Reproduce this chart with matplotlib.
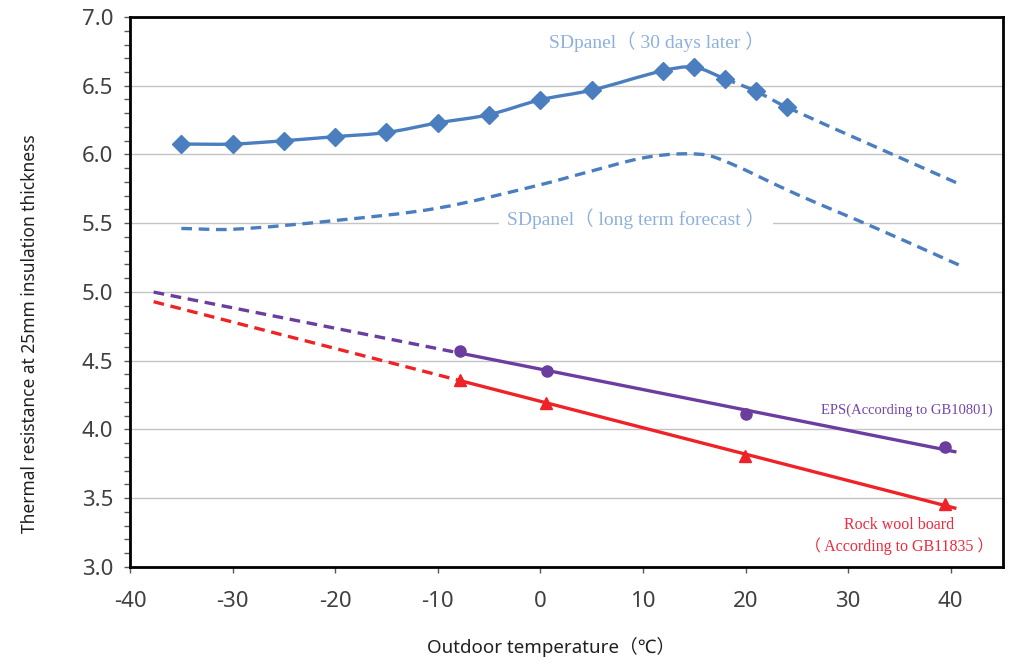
import numpy as np
import matplotlib
matplotlib.use("Agg")
import matplotlib.pyplot as plt
from matplotlib.path import Path
from matplotlib.patches import PathPatch
from matplotlib.ticker import MultipleLocator

# =========================================================
# DATA
# =========================================================
# SDpanel, measured 30 days later (diamonds)
sd30_x = [-35, -30, -25, -20, -15, -10, -5, 0, 5, 12, 15, 18, 21, 24]
sd30_y = [6.076, 6.076, 6.10, 6.13, 6.16, 6.23, 6.29, 6.398, 6.468, 6.61, 6.635, 6.55, 6.46, 6.345]
sd30_ext_x = [41]          # dashed extension end
sd30_ext_y = [5.78]
sd30_solid_until = 18      # solid up to here, dashed afterwards

# SDpanel, long term forecast (dashed, no markers)
sdlong_x = [-35, -30, -20, -10, 0, 5, 10, 14, 17, 25, 33, 41]
sdlong_y = [5.462, 5.456, 5.52, 5.61, 5.78, 5.88, 5.975, 6.005, 5.98, 5.71, 5.455, 5.19]

# EPS (According to GB10801)
eps_x = [-7.8, 0.6, 20.0, 39.4]
eps_y = [4.57, 4.425, 4.115, 3.87]

# Rock wool board (According to GB11835)
rock_x = [-7.8, 0.55, 19.96, 39.4]
rock_y = [4.36, 4.195, 3.807, 3.456]

# linear trend extent for EPS / rock wool
trend_from = -37.7
trend_to = 40.4

x_ticks = [-40, -30, -20, -10, 0, 10, 20, 30, 40]
y_ticks = [3.0, 3.5, 4.0, 4.5, 5.0, 5.5, 6.0, 6.5, 7.0]

# =========================================================
# COLOURS / FONTS
# =========================================================
BLUE = "#4a7ebe"
BLUE_TXT = "#8fb0de"
PURPLE = "#6a3d9e"
PURPLE_TXT = "#7446a8"
RED = "#ee2227"
RED_TXT = "#f0293d"
GREY_TXT = "#404040"
SERIF = ["Liberation Serif", "Noto Sans CJK SC"]
SANS = ["Noto Sans", "Noto Sans CJK SC"]


def smooth_path(xs, ys, i0, i1):
    # cubic Hermite (as Bezier) through the points, tangents from neighbours
    xs = np.asarray(xs, float)
    ys = np.asarray(ys, float)
    n = len(xs)
    m = np.empty(n)
    for i in range(n):
        a, b = max(i - 1, 0), min(i + 1, n - 1)
        m[i] = (ys[b] - ys[a]) / (xs[b] - xs[a])
    verts = [(xs[i0], ys[i0])]
    codes = [Path.MOVETO]
    for i in range(i0, i1):
        h = xs[i + 1] - xs[i]
        verts += [(xs[i] + h / 3, ys[i] + m[i] * h / 3),
                  (xs[i + 1] - h / 3, ys[i + 1] - m[i + 1] * h / 3),
                  (xs[i + 1], ys[i + 1])]
        codes += [Path.CURVE4] * 3
    return Path(verts, codes)


# =========================================================
# FIGURE
# =========================================================
fig = plt.figure(figsize=(10.24, 6.67), dpi=100)
ax = fig.add_axes([0.127, 0.15, 0.8525, 0.8245])

ax.set_xlim(-40, 45.1)
ax.set_ylim(3.0, 7.0)
ax.set_xticks(x_ticks)
ax.set_yticks(y_ticks)
ax.set_xticklabels([str(v) for v in x_ticks])
ax.set_yticklabels([f"{v:.1f}" for v in y_ticks])
ax.yaxis.set_minor_locator(MultipleLocator(0.1))
ax.grid(axis="y", which="major", color="#c4c4c4", linewidth=1.0, zorder=0)
ax.set_axisbelow(True)

for s in ax.spines.values():
    s.set_linewidth(2.0)
    s.set_color("black")

ax.tick_params(axis="both", which="major", direction="out", length=4, width=1,
               color="#595959", labelcolor=GREY_TXT, labelsize=16)
ax.tick_params(axis="y", which="minor", direction="out", length=4, width=1, color="#595959")
ax.tick_params(axis="y", which="major", pad=8)
ax.tick_params(axis="x", which="major", pad=13)
for lab in ax.get_xticklabels() + ax.get_yticklabels():
    lab.set_family(SANS)

ax.set_xlabel("Outdoor temperature（℃）", family=SANS, fontsize=13.5, color="#202020")
ax.set_ylabel("Thermal resistance at 25mm insulation thickness", family=SANS, fontsize=12.5,
              color="#202020")
ax.xaxis.set_label_coords(0.482, -0.128)
ax.yaxis.set_label_coords(-0.104, 0.425)

# ---------------- SDpanel 30 days ----------------
all_x = sd30_x + sd30_ext_x
all_y = sd30_y + sd30_ext_y
k = sd30_x.index(sd30_solid_until)
ax.add_patch(PathPatch(smooth_path(all_x, all_y, 0, k), fill=False, edgecolor=BLUE,
                       linewidth=2.4, capstyle="round", zorder=3))
ax.add_patch(PathPatch(smooth_path(all_x, all_y, k, len(all_x) - 1), fill=False, edgecolor=BLUE,
                       linewidth=2.4, linestyle=(0, (3.2, 2.0)), zorder=3))
ax.plot(sd30_x, sd30_y, linestyle="none", marker="D", markersize=9, color=BLUE, zorder=4)

# ---------------- SDpanel long term ----------------
ax.add_patch(PathPatch(smooth_path(sdlong_x, sdlong_y, 0, len(sdlong_x) - 1), fill=False,
                       edgecolor=BLUE, linewidth=2.4, linestyle=(0, (3.2, 2.0)), zorder=3))

# ---------------- EPS / Rock wool (linear trend) ----------------
for xs, ys, col, mk, ms in [(eps_x, eps_y, PURPLE, "o", 8), (rock_x, rock_y, RED, "^", 8.5)]:
    p = np.polyfit(xs, ys, 1)
    xd = np.array([trend_from, xs[0]])
    xl = np.array([xs[0], trend_to])
    ax.plot(xd, np.polyval(p, xd), color=col, linewidth=2.4, linestyle=(0, (3.2, 2.0)), zorder=3)
    ax.plot(xl, np.polyval(p, xl), color=col, linewidth=2.4, zorder=3)
    ax.plot(xs, ys, linestyle="none", marker=mk, markersize=ms, color=col, zorder=4)

# ---------------- annotations ----------------
ax.text(11.4, 6.82, "SDpanel（ 30 days later ）", family=SERIF, fontsize=14, color=BLUE_TXT,
        ha="center", va="center", zorder=5)
ax.text(9.3, 5.53, "SDpanel（ long term forecast ）", family=SERIF, fontsize=14, color=BLUE_TXT,
        ha="center", va="center", zorder=5,
        bbox=dict(facecolor="white", edgecolor="none", boxstyle="square,pad=0.4"))
ax.text(35.7, 4.14, "EPS(According to GB10801)", family=SERIF, fontsize=10.5, color=PURPLE_TXT,
        ha="center", va="center", zorder=5)
ax.text(35.0, 3.305, "Rock wool board", family=SERIF, fontsize=11.5, color=RED_TXT,
        ha="center", va="center", zorder=5)
ax.text(35.0, 3.153, "（ According to GB11835 ）", family=SERIF, fontsize=11.5, color=RED_TXT,
        ha="center", va="center", zorder=5)

fig.savefig("out.png", dpi=100)
